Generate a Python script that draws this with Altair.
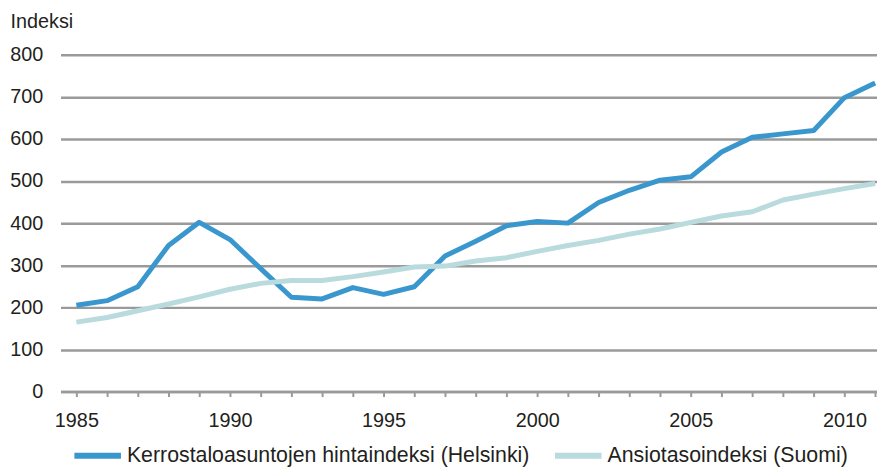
import altair as alt
import pandas as pd

years = list(range(1985, 2012))
helsinki = [205, 216, 249, 347, 402, 361, 292, 224, 220, 247, 231, 249, 322,
            357, 394, 404, 400, 449, 478, 502, 510, 569, 604, 612, 620, 698, 733]
suomi = [165, 176, 192, 208, 225, 243, 257, 264, 264, 273, 284, 296, 298,
         310, 318, 333, 347, 359, 374, 386, 402, 417, 427, 455, 469, 482, 494]
series_names = ["Kerrostaloasuntojen hintaindeksi (Helsinki)", "Ansiotasoindeksi (Suomi)"]
series_colors = ["#3A97CE", "#B9DBDD"]

rows = []
for i, name in enumerate(series_names):
    vals = helsinki if i == 0 else suomi
    for y, v in zip(years, vals):
        rows.append({"year": y, "value": v, "series": name, "ord": i})
df = pd.DataFrame(rows)

FONT = "Liberation Sans"

chart = alt.Chart(df).mark_line(strokeWidth=5, strokeJoin="round").encode(
    x=alt.X("year:Q",
            scale=alt.Scale(domain=[1984.484, 2011.06], nice=False, zero=False),
            axis=alt.Axis(values=years, title=None,
                          labelExpr="datum.value % 5 == 0 ? '' + datum.value : ''",
                          labelOverlap=False, labelFlush=False, labelBound=False,
                          grid=False, domainColor="#9a9a9a", domainWidth=2.5,
                          tickColor="#9a9a9a", tickWidth=2, tickSize=5,
                          labelPadding=14, labelFontSize=20, labelFont=FONT,
                          labelColor="#231f20")),
    y=alt.Y("value:Q",
            scale=alt.Scale(domain=[0, 800], nice=False),
            axis=alt.Axis(values=list(range(0, 801, 100)), title="Indeksi",
                          titleAngle=0, titleAlign="left", titleBaseline="middle",
                          titleX=-51, titleY=-33, titleFont=FONT, titleFontSize=20,
                          titleFontWeight="normal", titleColor="#231f20",
                          domain=False, ticks=False, labelPadding=18,
                          labelFontSize=20, labelFont=FONT, labelColor="#231f20",
                          gridColor="#9a9a9a", gridWidth=2.5, gridOpacity=1)),
    color=alt.Color("series:N",
                    scale=alt.Scale(domain=series_names, range=series_colors),
                    legend=alt.Legend(title=None, orient="none", direction="horizontal",
                                      legendX=11, legendY=378,
                                      symbolType="stroke", symbolSize=2209,
                                      symbolStrokeWidth=6, labelFontSize=21.5,
                                      labelFont=FONT, labelColor="#231f20",
                                      labelOffset=3, columnPadding=13,
                                      labelLimit=600)),
    order=alt.Order("ord:Q"),
).properties(
    width=824, height=340,
    autosize=alt.AutoSizeParams(type="none"),
    padding={"left": 53, "top": 45, "right": 0, "bottom": 77},
).configure_view(stroke=None)

chart.save("out.html", embed_options={"renderer": "svg", "actions": False})
